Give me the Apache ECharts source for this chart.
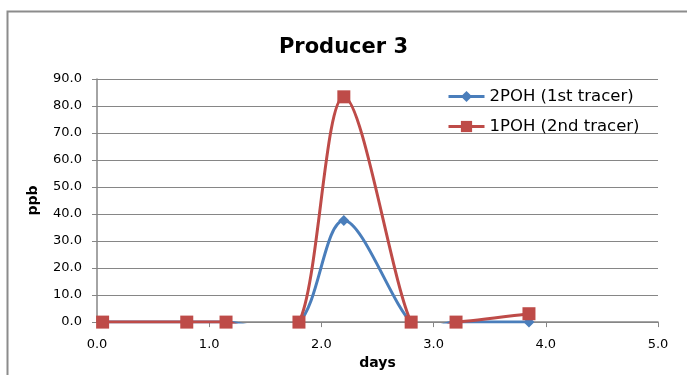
<!DOCTYPE html>
<html>
<head>
<meta charset="utf-8">
<script src="https://cdn.jsdelivr.net/npm/echarts@6/dist/echarts.min.js"></script>
<style>
  html, body { margin: 0; padding: 0; background: #fff; }
  #chart { width: 687px; height: 375px; }
</style>
</head>
<body>
<div id="chart"></div>
<script>
// Sampling times (days) and measured concentrations (ppb) per tracer
const days = [0.05, 0.8, 1.15, 1.8, 2.2, 2.8, 3.2, 3.85];
const poh2 = [0, 0, 0, 0, 37.6, 0, 0, 0];
const poh1 = [0, 0, 0, 0, 83.4, 0, 0, 3.1];
const seriesNames = ['2POH (1st tracer)', '1POH (2nd tracer)'];
const xTicks = [0, 1, 2, 3, 4, 5];
const yTicks = [0, 10, 20, 30, 40, 50, 60, 70, 80, 90];

const BLUE = '#4A7EBB';
const RED = '#BE4B48';
const font = '"DejaVu Sans", sans-serif';
const gridColor = '#868686';

const pairs = (xs, ys) => xs.map((x, i) => [x, ys[i]]);

// Smoothed connecting curve (cubic Bezier, Catmull-Rom style tangents),
// computed in pixel space from the points mapped through the axes.
function smoothCurve(ys, color, z) {
  return {
    type: 'custom',
    coordinateSystem: 'cartesian2d',
    z: z,
    silent: true,
    data: pairs(days, ys),
    encode: { x: 0, y: 1 },
    renderItem: function (params, api) {
      if (params.dataIndex !== 0) return null;
      const p = days.map((d, k) => api.coord([d, ys[k]]));
      const n = p.length;
      let d = 'M' + p[0][0] + ',' + p[0][1];
      for (let i = 0; i < n - 1; i++) {
        const p0 = p[Math.max(i - 1, 0)];
        const p1 = p[i];
        const p2 = p[i + 1];
        const p3 = p[Math.min(i + 2, n - 1)];
        const c1x = p1[0] + (p2[0] - p0[0]) / 6;
        const c1y = p1[1] + (p2[1] - p0[1]) / 6;
        const c2x = p2[0] - (p3[0] - p1[0]) / 6;
        const c2y = p2[1] - (p3[1] - p1[1]) / 6;
        d += ' C' + c1x + ',' + c1y + ' ' + c2x + ',' + c2y + ' ' + p2[0] + ',' + p2[1];
      }
      const cs = params.coordSys;
      return {
        type: 'group',
        clipPath: {
          type: 'rect',
          shape: { x: cs.x - 2, y: cs.y - 2, width: cs.width + 4, height: cs.height + 3.5 }
        },
        children: [{
          type: 'path',
          shape: { pathData: d },
          style: { stroke: color, lineWidth: 3, fill: null, lineJoin: 'round' }
        }]
      };
    }
  };
}

const chart = echarts.init(document.getElementById('chart'), null, { renderer: 'canvas' });
chart.setOption({
  animation: false,
  backgroundColor: '#fff',
  title: {
    text: 'Producer 3',
    left: 'center',
    top: 32,
    textStyle: { fontFamily: font, fontSize: 21, fontWeight: 'bold', color: '#000' }
  },
  graphic: [{
    type: 'polyline',
    shape: { points: [[7.5, 380], [7.5, 11.5], [690, 11.5]] },
    style: { stroke: '#8c8c8c', lineWidth: 2, fill: null },
    silent: true
  }],
  legend: {
    left: 442,
    top: 83,
    orient: 'vertical',
    itemWidth: 36,
    itemHeight: 14,
    itemGap: 13,
    textStyle: { fontFamily: font, fontSize: 16.5, lineHeight: 16, color: '#000' },
    data: [
      { name: seriesNames[0], lineStyle: { color: BLUE, width: 3, opacity: 1 } },
      { name: seriesNames[1], lineStyle: { color: RED, width: 3, opacity: 1 } }
    ]
  },
  grid: { left: 97, right: 29, top: 79, bottom: 49, containLabel: false },
  xAxis: {
    type: 'value',
    min: xTicks[0],
    max: xTicks[xTicks.length - 1],
    interval: 1,
    name: 'days',
    nameLocation: 'middle',
    nameGap: 31,
    nameTextStyle: { fontFamily: font, fontSize: 14, fontWeight: 'bold', color: '#000' },
    axisLine: { lineStyle: { color: gridColor, width: 1.5 } },
    axisTick: { show: true, length: 5, lineStyle: { color: gridColor } },
    axisLabel: { fontFamily: font, fontSize: 13, color: '#000', margin: 16, formatter: v => v.toFixed(1) },
    splitLine: { show: false }
  },
  yAxis: {
    type: 'value',
    min: yTicks[0],
    max: yTicks[yTicks.length - 1],
    interval: 10,
    name: 'ppb',
    nameLocation: 'middle',
    nameGap: 57,
    nameRotate: 90,
    nameTextStyle: { fontFamily: font, fontSize: 14, fontWeight: 'bold', color: '#000' },
    axisLine: { show: true, lineStyle: { color: gridColor, width: 1.5 } },
    axisTick: { show: true, length: 5, lineStyle: { color: gridColor } },
    axisLabel: { fontFamily: font, fontSize: 13, color: '#000', margin: 15, formatter: v => v.toFixed(1) },
    splitLine: { show: true, lineStyle: { color: gridColor, width: 1.2 } }
  },
  series: [
    {
      name: seriesNames[0],
      type: 'line',
      data: pairs(days, poh2),
      symbol: 'diamond',
      symbolSize: 11,
      lineStyle: { color: BLUE, width: 3, opacity: 0 },
      itemStyle: { color: BLUE },
      z: 3
    },
    {
      name: seriesNames[1],
      type: 'line',
      data: pairs(days, poh1),
      symbol: 'rect',
      symbolSize: 13,
      lineStyle: { color: RED, width: 3, opacity: 0 },
      itemStyle: { color: RED },
      z: 5
    },
    Object.assign({ name: seriesNames[0] }, smoothCurve(poh2, BLUE, 2)),
    Object.assign({ name: seriesNames[1] }, smoothCurve(poh1, RED, 4))
  ]
});
</script>
</body>
</html>
